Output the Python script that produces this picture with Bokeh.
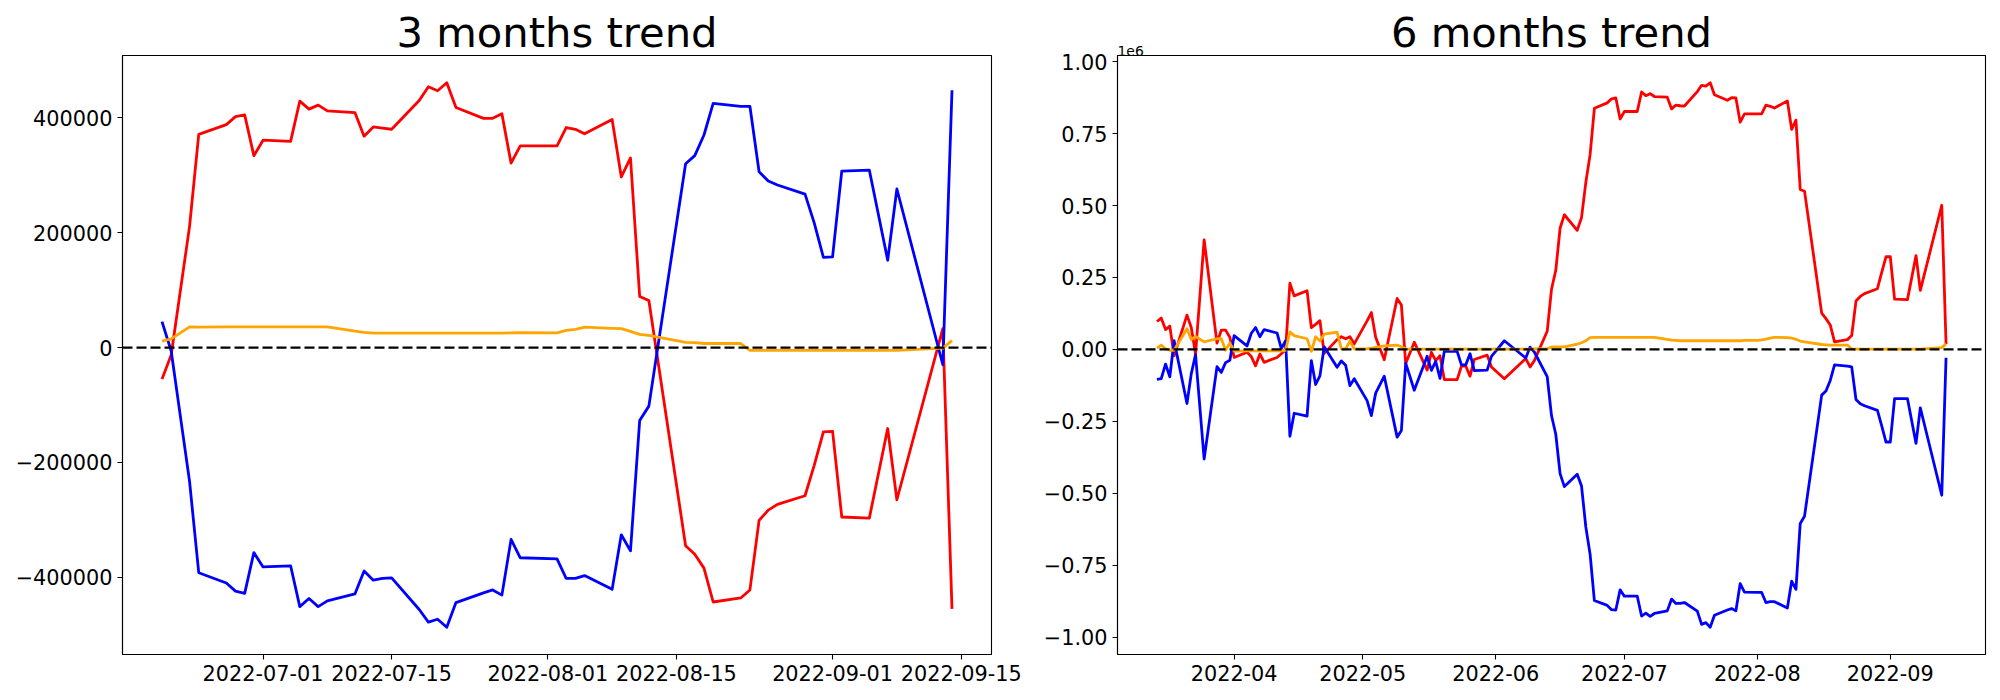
import pandas as pd
from bokeh.plotting import figure
from bokeh.models import FixedTicker, DatetimeTickFormatter, Span, Title, Range1d
from bokeh.layouts import row
from bokeh.embed import file_html
from bokeh.resources import INLINE

# ---------------- 3 months data ----------------
dates_3m = ["2022-06-20", "2022-06-21", "2022-06-23", "2022-06-24",
            "2022-06-27", "2022-06-28", "2022-06-29", "2022-06-30", "2022-07-01",
            "2022-07-04", "2022-07-05", "2022-07-06", "2022-07-07", "2022-07-08",
            "2022-07-11", "2022-07-12", "2022-07-13", "2022-07-14", "2022-07-15",
            "2022-07-18", "2022-07-19", "2022-07-20", "2022-07-21", "2022-07-22",
            "2022-07-25", "2022-07-26", "2022-07-27", "2022-07-28", "2022-07-29",
            "2022-08-02", "2022-08-03", "2022-08-04", "2022-08-05",
            "2022-08-08", "2022-08-09", "2022-08-10", "2022-08-11", "2022-08-12",
            "2022-08-16", "2022-08-17", "2022-08-18", "2022-08-19",
            "2022-08-22", "2022-08-23", "2022-08-24", "2022-08-25", "2022-08-26",
            "2022-08-29", "2022-08-30", "2022-08-31", "2022-09-01", "2022-09-02",
            "2022-09-05", "2022-09-07", "2022-09-08",
            "2022-09-13", "2022-09-14"]
red_3m = [-55000, -13000, 211000, 371000,
          388000, 402000, 405000, 334000, 361000,
          359000, 429000, 415000, 422000, 412000,
          409000, 368000, 384000, 382000, 380000,
          430000, 454000, 447000, 461000, 418000,
          399000, 399000, 407000, 321000, 351000,
          351000, 383000, 380000, 372000,
          397000, 297000, 330000, 89000, 82000,
          -345000, -360000, -384000, -443000,
          -436000, -422000, -301000, -283000, -273000,
          -258000, -205000, -147000, -146000, -295000,
          -297000, -141000, -265000,
          33000, -455000]
blue_3m = [45000, -6000, -233000, -392000,
           -410000, -424000, -428000, -357000, -382000,
           -380000, -451000, -437000, -451000, -441000,
           -429000, -389000, -405000, -402000, -401000,
           -456000, -478000, -473000, -487000, -444000,
           -427000, -422000, -431000, -334000, -366000,
           -368000, -402000, -402000, -397000,
           -421000, -326000, -354000, -127000, -102000,
           320000, 334000, 370000, 425000,
           420000, 420000, 306000, 290000, 283000,
           267000, 217000, 157000, 158000, 307000,
           309000, 152000, 276000,
           -30000, 448000]
orange_3m = [11000, 15000, 36000, 35500,
             36000, 36000, 36000, 36000, 36000,
             36000, 36000, 36000, 36000, 36000,
             28500, 26500, 25000, 25000, 25000,
             25000, 25000, 25000, 25000, 25000,
             25000, 25000, 25000, 25500, 26000,
             25500, 30000, 31500, 35500,
             33500, 33000, 28000, 23000, 21000,
             9000, 8500, 7000, 7000,
             7000, -5000, -5000, -5000, -5000,
             -5000, -5000, -5000, -5000, -5000,
             -5000, -5000, -5000,
             -1000, 12000]

# ---------------- 6 months data ----------------
dates_6m = ["2022-03-14", "2022-03-15", "2022-03-16", "2022-03-17", "2022-03-18",
            "2022-03-21", "2022-03-22", "2022-03-23", "2022-03-25",
            "2022-03-28", "2022-03-29", "2022-03-30", "2022-03-31", "2022-04-01",
            "2022-04-04", "2022-04-05", "2022-04-06", "2022-04-07", "2022-04-08",
            "2022-04-11", "2022-04-12", "2022-04-13", "2022-04-14", "2022-04-15",
            "2022-04-18", "2022-04-19", "2022-04-20", "2022-04-21", "2022-04-22",
            "2022-04-25", "2022-04-26", "2022-04-27", "2022-04-28", "2022-04-29",
            "2022-05-02", "2022-05-03", "2022-05-04", "2022-05-06",
            "2022-05-09", "2022-05-10", "2022-05-11", "2022-05-13",
            "2022-05-16", "2022-05-17", "2022-05-18", "2022-05-19", "2022-05-20",
            "2022-05-23", "2022-05-24", "2022-05-25", "2022-05-26", "2022-05-27",
            "2022-05-30", "2022-05-31", "2022-06-03",
            "2022-06-08", "2022-06-09", "2022-06-10",
            "2022-06-13", "2022-06-14", "2022-06-15", "2022-06-16", "2022-06-17",
            "2022-06-20", "2022-06-21", "2022-06-22", "2022-06-23", "2022-06-24",
            "2022-06-27", "2022-06-28", "2022-06-29", "2022-06-30", "2022-07-01",
            "2022-07-04", "2022-07-05", "2022-07-06", "2022-07-07", "2022-07-08",
            "2022-07-11", "2022-07-12", "2022-07-13", "2022-07-14", "2022-07-15",
            "2022-07-18", "2022-07-19", "2022-07-20", "2022-07-21", "2022-07-22",
            "2022-07-25", "2022-07-26", "2022-07-27", "2022-07-28", "2022-07-29",
            "2022-08-01", "2022-08-02", "2022-08-03", "2022-08-04", "2022-08-05",
            "2022-08-08", "2022-08-09", "2022-08-10", "2022-08-11", "2022-08-12",
            "2022-08-16", "2022-08-17", "2022-08-18", "2022-08-19",
            "2022-08-22", "2022-08-23", "2022-08-24", "2022-08-25", "2022-08-26",
            "2022-08-29", "2022-08-30", "2022-08-31", "2022-09-01", "2022-09-02",
            "2022-09-05", "2022-09-07", "2022-09-08",
            "2022-09-13", "2022-09-14"]
red_6m = [97000, 109000, 69000, 81000, -22000,
          119000, 76000, -16000, 381000,
          22000, 67000, 67000, 42000, -28000,
          -10000, -25000, -57000, -16000, -45000,
          -28000, -15000, 0, 230000, 186000,
          204000, 76000, 87000, 100000, -14000,
          34000, 44000, 37000, 44000, 19000,
          99000, 128000, 42000, -36000,
          177000, 154000, -49000, 25000,
          -72000, -10000, -39000, -22000, -105000,
          -105000, -58000, -58000, -93000, -35000,
          -20000, -61000, -102000,
          -32000, -61000, -39000,
          63000, 209000, 275000, 421000, 468000,
          414000, 458000, 580000, 677000, 838000,
          857000, 871000, 874000, 801000, 827000,
          827000, 895000, 882000, 889000, 879000,
          877000, 836000, 849000, 847000, 846000,
          896000, 918000, 915000, 927000, 885000,
          866000, 875000, 874000, 790000, 819000,
          819000, 819000, 849000, 845000, 839000,
          864000, 765000, 797000, 556000, 550000,
          126000, 107000, 85000, 26000,
          34000, 48000, 168000, 184000, 194000,
          211000, 268000, 322000, 322000, 175000,
          173000, 326000, 205000,
          501000, 19000]
blue_6m = [-104000, -102000, -51000, -95000, 30000,
           -188000, -85000, -18000, -381000,
           -60000, -80000, -46000, -38000, 48000,
           12000, 56000, 76000, 44000, 69000,
           57000, 3000, 30000, -302000, -222000,
           -232000, -39000, -122000, -92000, 9000,
           -62000, -40000, -55000, -126000, -102000,
           -178000, -230000, -152000, -93000,
           -305000, -282000, -48000, -142000,
           -24000, -73000, -42000, -101000, -7000,
           -7000, -54000, -54000, -15000, -74000,
           -72000, -24000, 30000,
           -30000, 8000, -9000,
           -95000, -230000, -295000, -432000, -477000,
           -434000, -475000, -617000, -712000, -873000,
           -890000, -905000, -906000, -836000, -858000,
           -858000, -927000, -917000, -928000, -918000,
           -909000, -868000, -883000, -883000, -880000,
           -910000, -956000, -950000, -966000, -924000,
           -906000, -901000, -909000, -814000, -844000,
           -845000, -845000, -880000, -877000, -877000,
           -899000, -806000, -834000, -605000, -580000,
           -159000, -145000, -108000, -54000,
           -58000, -61000, -174000, -189000, -196000,
           -212000, -266000, -322000, -322000, -171000,
           -171000, -327000, -203000,
           -507000, -29000]
orange_6m = [4000, 15000, 1500, -3000, -3000,
             72000, 34000, 45000, 26000,
             37000, 37000, -3000, 22000, -6000,
             -5000, -5000, -5000, -5000, -5000,
             -5000, -5000, -3000, 61000, 48000,
             37000, -7000, 44000, 29000, 53000,
             60000, 1500, 1500, 29000, 1500,
             2000, 4000, 7000, 12000,
             15000, 9000, 1500, 1000,
             1000, 1000, 1000, 1000, 1000,
             1000, 1000, 1000, 1000, 1000,
             1000, 1000, 1000,
             1000, 1000, 1500,
             2000, 8000, 9000, 9000, 9000,
             18000, 23000, 30000, 41000, 42000,
             42000, 42000, 42000, 42000, 42000,
             42000, 42000, 42000, 42000, 42000,
             35000, 32000, 31000, 30000, 30000,
             30000, 30000, 30000, 30000, 30000,
             30000, 30000, 30000, 30000, 31000,
             31000, 33000, 36000, 39000, 42000,
             41000, 39500, 35000, 29000, 26000,
             17000, 16000, 15000, 15000,
             15000, 1500, 1000, 1000, 1000,
             1000, 1000, 1000, 1000, 1000,
             1000, 1000, 1000,
             6000, 19000]

xticks_3m = ["2022-07-01", "2022-07-15", "2022-08-01", "2022-08-15", "2022-09-01", "2022-09-15"]
xticks_6m = ["2022-04-01", "2022-05-01", "2022-06-01", "2022-07-01", "2022-08-01", "2022-09-01"]
yticks_3m = [-400000, -200000, 0, 200000, 400000]
ylabels_3m = ["\u2212400000", "\u2212200000", "0", "200000", "400000"]
yticks_6m = [-1000000, -750000, -500000, -250000, 0, 250000, 500000, 750000, 1000000]
ylabels_6m = ["\u22121.00", "\u22120.75", "\u22120.50", "\u22120.25", "0.00", "0.25", "0.50", "0.75", "1.00"]

FONT = "DejaVu Sans"


def ms(d):
    return int(pd.Timestamp(d).value // 10**6)


def make(dates, red, blue, orange, title, xticks, xfmt, yticks, ylabels,
         width, bleft, bright, offset_text=None):
    xs = [ms(d) for d in dates]
    x0, x1 = min(xs), max(xs)
    mx = (x1 - x0) * 0.05
    allv = red + blue + orange
    y0, y1 = min(allv), max(allv)
    my = (y1 - y0) * 0.05
    p = figure(width=width, height=692, x_axis_type="datetime", title=None,
               output_backend="svg", toolbar_location=None,
               x_range=Range1d(x0 - mx, x1 + mx), y_range=Range1d(y0 - my, y1 + my),
               min_border_left=bleft, min_border_right=bright,
               min_border_top=55, min_border_bottom=38)
    x = pd.to_datetime(dates)
    p.line(x, red, line_color="red", line_width=2.8, line_join="round")
    p.line(x, blue, line_color="blue", line_width=2.8, line_join="round")
    p.line(x, orange, line_color="orange", line_width=2.8, line_join="round")
    p.add_layout(Span(location=0, dimension="width", line_color="black",
                      line_dash="10 4", line_width=2.2))

    p.xgrid.visible = False
    p.ygrid.visible = False
    p.outline_line_color = "black"
    p.outline_line_width = 1.1
    p.outline_line_alpha = 1.0

    p.xaxis.ticker = FixedTicker(ticks=[ms(t) for t in xticks])
    p.xaxis.formatter = DatetimeTickFormatter(
        microseconds=xfmt, milliseconds=xfmt, seconds=xfmt, minsec=xfmt,
        minutes=xfmt, hourmin=xfmt, hours=xfmt, days=xfmt, months=xfmt, years=xfmt)
    p.yaxis.ticker = FixedTicker(ticks=yticks)
    p.yaxis.major_label_overrides = {t: l for t, l in zip(yticks, ylabels)}
    for ax in (p.xaxis, p.yaxis):
        ax.major_label_text_font = FONT
        ax.major_label_text_font_size = "20.8px"
        ax.major_label_text_color = "black"
        ax.axis_line_color = "black"
        ax.axis_line_width = 1.1
        ax.major_tick_line_color = "black"
        ax.major_tick_line_width = 1.1
        ax.major_tick_out = 5
        ax.major_tick_in = 0
        ax.minor_tick_out = 0
        ax.minor_tick_in = 0
        ax.major_label_standoff = 5

    if offset_text:
        p.add_layout(Title(text=offset_text, align="left", vertical_align="bottom",
                           standoff=0, text_font=FONT, text_font_size="13.9px",
                           text_font_style="normal", text_color="black"), "above")
        main_standoff = -27
    else:
        main_standoff = -2
    p.add_layout(Title(text=title, align="center", vertical_align="bottom",
                       standoff=main_standoff, text_font=FONT, text_font_size="41.7px",
                       text_font_style="normal", text_color="black"), "above")
    return p


p1 = make(dates_3m, red_3m, blue_3m, orange_3m, "3 months trend", xticks_3m, "%Y-%m-%d",
          yticks_3m, ylabels_3m, width=1040, bleft=122, bright=49)
p2 = make(dates_6m, red_6m, blue_6m, orange_6m, "6 months trend", xticks_6m, "%Y-%m",
          yticks_6m, ylabels_6m, width=952, bleft=77, bright=7, offset_text="1e6")

layout = row(p1, p2)
open("out.html", "w").write(file_html(layout, INLINE))
